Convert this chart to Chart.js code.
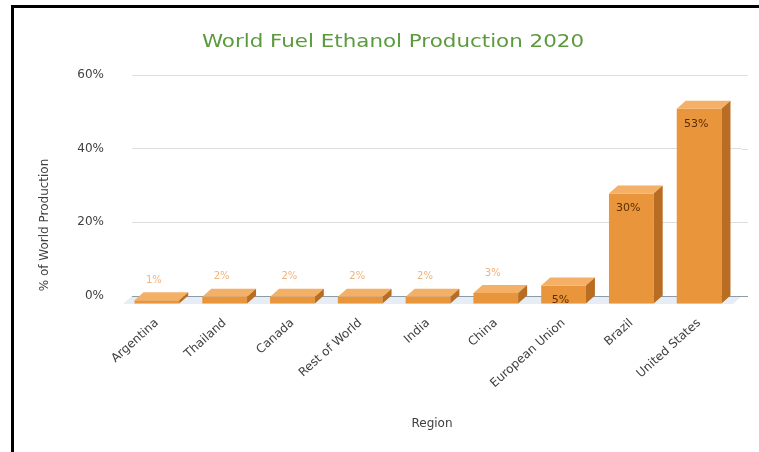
<!DOCTYPE html>
<html>
<head>
<meta charset="utf-8">
<script src="https://cdn.jsdelivr.net/npm/chart.js@4/dist/chart.umd.min.js"></script>
<style>
  html, body { margin: 0; padding: 0; background: #fff; overflow: hidden; }
  #wrap { position: relative; width: 759px; height: 452px; }
  #frame { position: absolute; left: 11px; top: 5px; width: 820px; height: 520px; border: 3px solid #000; box-sizing: border-box; }
  canvas { position: absolute; left: 0; top: 0; }
</style>
</head>
<body>
<div id="wrap">
  <div id="frame"></div>
  <canvas id="c" width="759" height="452"></canvas>
</div>
<script>
// ---- data ----
const categories = ['Argentina', 'Thailand', 'Canada', 'Rest of World', 'India', 'China', 'European Union', 'Brazil', 'United States'];
const shares = [1, 2, 2, 2, 2, 3, 5, 30, 53];
const yTickValues = [0, 20, 40, 60];
const chartTitle = 'World Fuel Ethanol Production 2020';
const xTitle = 'Region';
const yTitle = '% of World Production';

// ---- 3D look ----
const DX = 9, DY = 8;
const FRONT = '#e8953b', TOP = '#f3b066', SIDE = '#b86d22';
const FONT = '"DejaVu Sans", sans-serif';
const gridColor = v => (v === 0 ? '#8d9aa8' : '#dedede');

const bar3d = {
  id: 'bar3d',
  beforeDraw(chart) {
    const { ctx, chartArea: a, scales: { y } } = chart;
    const y0 = y.getPixelForValue(0);
    ctx.save();
    ctx.fillStyle = '#e7edf4';
    ctx.beginPath();
    ctx.moveTo(a.left, y0);
    ctx.lineTo(a.right, y0);
    ctx.lineTo(a.right - DX, y0 + DY);
    ctx.lineTo(a.left - DX, y0 + DY);
    ctx.closePath();
    ctx.fill();
    ctx.restore();
  },
  beforeDatasetsDraw(chart) {
    const { ctx, chartArea: a, scales: { y } } = chart;
    // small extension of the back-wall gridlines past the plot's right edge
    ctx.save();
    ctx.lineWidth = 1;
    y.ticks.forEach(t => {
      const py = Math.round(y.getPixelForValue(t.value)) + 0.5;
      ctx.strokeStyle = gridColor(t.value);
      ctx.beginPath();
      ctx.moveTo(a.right, py);
      ctx.lineTo(a.right + 6, py);
      ctx.stroke();
    });
    ctx.restore();
    ctx.save();
    ctx.translate(-DX, DY);
  },
  afterDatasetsDraw(chart) {
    const ctx = chart.ctx;
    ctx.restore();
    const meta = chart.getDatasetMeta(0);
    meta.data.forEach((el, i) => {
      const { x, y, base, width } = el.getProps(['x', 'y', 'base', 'width'], true);
      const l = x - width / 2, r = x + width / 2;
      ctx.save();
      // top face
      ctx.fillStyle = TOP;
      ctx.beginPath();
      ctx.moveTo(l - DX, y + DY);
      ctx.lineTo(r - DX, y + DY);
      ctx.lineTo(r, y);
      ctx.lineTo(l, y);
      ctx.closePath();
      ctx.fill();
      // side face
      ctx.fillStyle = SIDE;
      ctx.beginPath();
      ctx.moveTo(r - DX, y + DY);
      ctx.lineTo(r, y);
      ctx.lineTo(r, base);
      ctx.lineTo(r - DX, base + DY);
      ctx.closePath();
      ctx.fill();
      // value labels
      const v = shares[i];
      ctx.textAlign = 'center';
      ctx.textBaseline = 'middle';
      if (v >= 5) {
        ctx.fillStyle = '#5e2d00';
        ctx.font = '11px ' + FONT;
        ctx.fillText(v + '%', x - DX - 3, y + DY + 15);
      } else {
        ctx.fillStyle = '#f2b27c';
        ctx.font = '10px ' + FONT;
        ctx.fillText(v + '%', x - DX - 3, y - 12);
      }
      ctx.restore();
    });
  },
  afterDraw(chart) {
    const ctx = chart.ctx;
    ctx.save();
    // chart title
    ctx.translate(393, 42);
    ctx.scale(1.19, 1);
    ctx.font = '18px ' + FONT;
    ctx.fillStyle = '#5b9a3d';
    ctx.textAlign = 'center';
    ctx.textBaseline = 'middle';
    ctx.fillText(chartTitle, 0, 0);
    ctx.restore();
    // x title
    ctx.save();
    ctx.font = '12px ' + FONT;
    ctx.fillStyle = '#404040';
    ctx.textAlign = 'center';
    ctx.textBaseline = 'middle';
    ctx.fillText(xTitle, 432, 424);
    // y title
    ctx.translate(45, 225);
    ctx.rotate(-Math.PI / 2);
    ctx.fillText(yTitle, 0, 0);
    ctx.restore();
  }
};

new Chart(document.getElementById('c'), {
  type: 'bar',
  data: {
    labels: categories,
    datasets: [{
      data: shares,
      backgroundColor: FRONT,
      borderWidth: 0,
      categoryPercentage: 1,
      barPercentage: 0.66
    }]
  },
  options: {
    responsive: false,
    devicePixelRatio: 1,
    animation: false,
    layout: { padding: { left: 0, right: 17, top: 75, bottom: 0 } },
    plugins: { legend: { display: false }, title: { display: false }, tooltip: { enabled: false } },
    scales: {
      x: {
        grid: { display: false },
        border: { display: false },
        ticks: {
          autoSkip: false, minRotation: 42, maxRotation: 42,
          labelOffset: -DX, padding: 12,
          color: '#404040', font: { family: FONT, size: 12 }
        },
        afterFit: s => { s.height = 156; }
      },
      y: {
        min: 0, max: 60,
        afterBuildTicks: s => { s.ticks = yTickValues.map(v => ({ value: v })); },
        ticks: {
          callback: v => v + '%',
          padding: 28,
          color: '#404040', font: { family: FONT, size: 12 }
        },
        grid: {
          drawTicks: false,
          color: c => gridColor(c.tick ? c.tick.value : null),
          lineWidth: 1
        },
        border: { display: false },
        afterFit: s => { s.width = 132; }
      }
    }
  },
  plugins: [bar3d]
});
</script>
</body>
</html>
